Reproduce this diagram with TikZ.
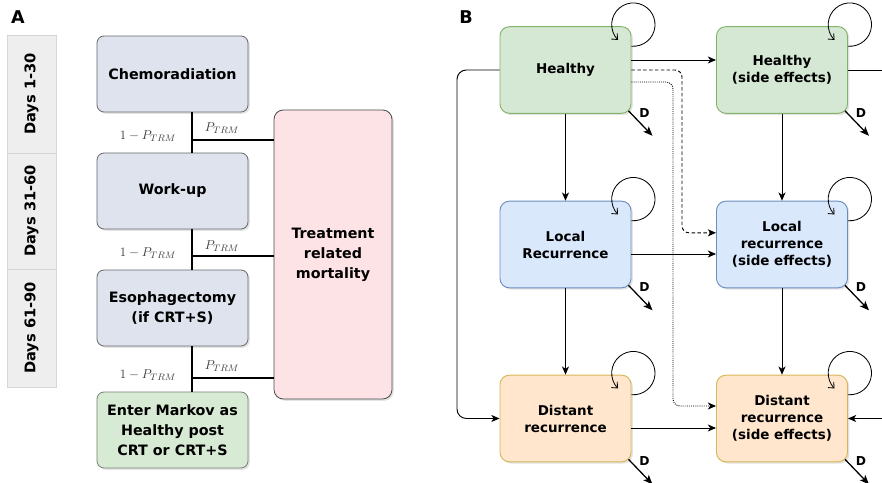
\documentclass[tikz,border=0pt]{standalone}
\usepackage{amsmath}
\usepackage{fontspec}
\setsansfont{DejaVu Sans}
\usetikzlibrary{arrows.meta,positioning,calc,shadows}

\definecolor{stagefill}{RGB}{222,227,238}
\definecolor{stageline}{RGB}{105,105,110}
\definecolor{enterfill}{RGB}{215,234,211}
\definecolor{enterline}{RGB}{120,130,120}
\definecolor{trmfill}{RGB}{253,226,230}
\definecolor{dayfill}{RGB}{238,238,238}
\definecolor{dayline}{RGB}{214,214,214}
\definecolor{hfill}{HTML}{D5E8D4}
\definecolor{hline}{HTML}{82B366}
\definecolor{lfill}{HTML}{DAE8FC}
\definecolor{lline}{HTML}{6C8EBF}
\definecolor{dfill}{HTML}{FFE6CC}
\definecolor{dline}{HTML}{D6B656}

\begin{document}
\begin{tikzpicture}[x=0.03cm,y=0.03cm,
  shade/.style={drop shadow={opacity=0.22,shadow xshift=1.5pt,shadow yshift=-1.5pt}},
  stage/.style={draw=stageline,fill=stagefill,rounded corners=6pt,line width=0.7pt,shade,
    minimum width=4.53cm,minimum height=2.28cm,align=center,
    font=\sffamily\bfseries\fontsize{12.2}{17}\selectfont},
  day/.style={draw=dayline,fill=dayfill,rotate=90,minimum height=1.47cm,
    font=\sffamily\bfseries\fontsize{12.5}{14}\selectfont},
  state/.style={rounded corners=8pt,line width=0.8pt,shade,
    minimum width=3.93cm,minimum height=2.6cm,align=center,
    font=\sffamily\bfseries\fontsize{11.5}{14.5}\selectfont},
  prob/.style={text=black!75,font=\fontsize{11}{13}\selectfont},
  dlab/.style={font=\sffamily\bfseries\fontsize{10.5}{12}\selectfont},
  arr/.style={line width=0.8pt,-{Stealth[length=7pt,width=6pt,inset=2pt]}},
  selfloop/.style={line width=0.7pt,-{Straight Barb[length=4pt,width=7pt]}},
  darr/.style={line width=1.1pt,-{Stealth[length=8pt,width=6.5pt,inset=2pt]}}]
\useasboundingbox (0,0) rectangle (882,483);

\node[font=\sffamily\bfseries\fontsize{15}{15}\selectfont] (labA) at (18,466) {A};
\node[font=\sffamily\bfseries\fontsize{15}{15}\selectfont] (labB) at (466,466) {B};

\node[day,minimum width=3.54cm] (day1) at (31.5,389) {Days 1-30};
\node[day,minimum width=3.48cm] (day2) at (31.5,272) {Days 31-60};
\node[day,minimum width=3.54cm] (day3) at (31.5,155) {Days 61-90};

\node[stage] (chemo) at (172.5,409) {Chemoradiation};
\node[stage] (workup) at (172.5,292) {Work-up};
\node[stage] (esoph) at (172.5,175) {Esophagectomy\\(if CRT+S)};
\node[stage,draw=enterline,fill=enterfill] (enter) at (172.5,53) {Enter Markov as\\Healthy post\\CRT or CRT+S};
\node[stage,minimum width=3.54cm,minimum height=8.67cm,rounded corners=8pt,fill=trmfill,draw=black!70]
  (trm) at (333,228.5) {Treatment\\related\\mortality};

\coordinate (trunk) at (192,0);
\coordinate (j1) at (192,343);
\coordinate (j2) at (192,227);
\coordinate (j3) at (192,105);
\draw[line width=1pt] (chemo.south -| trunk) -- (workup.north -| trunk);
\draw[line width=1pt] (workup.south -| trunk) -- (esoph.north -| trunk);
\draw[line width=1pt] (esoph.south -| trunk) -- (enter.north -| trunk);
\draw[line width=1pt] (j1) -- (j1 -| trm.west);
\draw[line width=1pt] (j2) -- (j2 -| trm.west);
\draw[line width=1pt] (j3) -- (j3 -| trm.west);
\node[prob] (q1) at (148,347) {$1-P_{TRM}$};
\node[prob] (p1) at (222,355) {$P_{TRM}$};
\node[prob] (q2) at (148,230) {$1-P_{TRM}$};
\node[prob] (p2) at (222,237) {$P_{TRM}$};
\node[prob] (q3) at (148,108) {$1-P_{TRM}$};
\node[prob] (p3) at (222,117) {$P_{TRM}$};

\node[state,fill=hfill,draw=hline] (healthy) at (565.5,413) {Healthy};
\node[state,fill=hfill,draw=hline] (healthyse) at (782,413) {Healthy\\(side effects)};
\node[state,fill=lfill,draw=lline] (local) at (565.5,238.5) {Local\\Recurrence};
\node[state,fill=lfill,draw=lline] (localse) at (782,238.5) {Local\\recurrence\\(side effects)};
\node[state,fill=dfill,draw=dline] (distant) at (565.5,64.5) {Distant\\recurrence};
\node[state,fill=dfill,draw=dline] (distantse) at (782,64.5) {Distant\\recurrence\\(side effects)};

\foreach \n in {healthy,healthyse,local,localse,distant,distantse}{
  \draw[selfloop] ([yshift=-0.6cm]\n.north east) arc[start angle=-95,end angle=225,radius=0.65cm];
  \draw[darr] ([shift={(-0.09cm,0.09cm)}]\n.south east) -- ++(0.72cm,-0.75cm);
  \node[dlab] (d\n) at ([shift={(0.39cm,0.03cm)}]\n.south east) {D};
}

\coordinate (lane) at (457,0);
\coordinate (dashlane) at (682,0);
\coordinate (dotlane) at (673,0);
\coordinate (rout) at (882,413);
\coordinate (rin) at (882,64.5);
\draw[arr] ([yshift=0.3cm]healthy.east) -- ([yshift=0.3cm]healthyse.west);
\draw[arr] (healthy.south) -- (local.north);
\draw[arr] (local.south) -- (distant.north);
\draw[arr] (healthyse.south) -- (localse.north);
\draw[arr] (localse.south) -- (distantse.north);
\draw[arr] ([yshift=-0.285cm]local.east) -- ([yshift=-0.285cm]localse.west);
\draw[arr] ([yshift=-0.285cm]distant.east) -- ([yshift=-0.285cm]distantse.west);
\draw[arr,rounded corners=8pt] (healthy.west) -- (healthy.west -| lane)
  -- (distant.west -| lane) -- (distant.west);
\draw[arr,dash pattern=on 3pt off 2pt,rounded corners=6pt] (healthy.east) -- (healthy.east -| dashlane)
  -- ([yshift=0.35cm]localse.west -| dashlane) -- ([yshift=0.35cm]localse.west);
\draw[arr,densely dotted,rounded corners=6pt] ([yshift=-0.36cm]healthy.east)
  -- ([yshift=-0.36cm]healthy.east -| dotlane)
  -- ([yshift=0.375cm]distantse.west -| dotlane) -- ([yshift=0.375cm]distantse.west);
\draw[line width=0.8pt] (healthyse.east) -- (rout);
\draw[arr] (rin) -- (distantse.east);
\end{tikzpicture}
\end{document}
